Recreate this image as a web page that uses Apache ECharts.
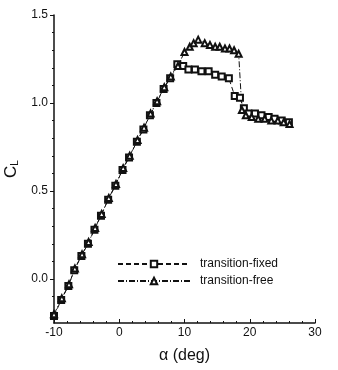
<!DOCTYPE html>
<html>
<head>
<meta charset="utf-8">
<script src="https://cdn.jsdelivr.net/npm/echarts@6/dist/echarts.min.js"></script>
<style>html,body{margin:0;padding:0;background:#fff}#c{width:338px;height:370px}</style>
</head>
<body>
<div id="c"></div>
<script>
// transition-fixed (squares, dashed)
const fixedAlpha = [-10, -8.9, -7.8, -6.9, -5.8, -4.8, -3.8, -2.8, -1.7, -0.6, 0.5, 1.5, 2.7, 3.7, 4.7, 5.7, 6.8, 7.8, 8.9, 9.8, 10.6, 11.6, 12.6, 13.7, 14.7, 15.7, 16.8, 17.7, 18.5, 19.1, 19.8, 20.8, 21.8, 22.9, 23.8, 24.9, 26.0];
const fixedCL    = [-0.21, -0.12, -0.04, 0.05, 0.13, 0.20, 0.28, 0.36, 0.45, 0.53, 0.62, 0.69, 0.78, 0.85, 0.93, 1.00, 1.08, 1.14, 1.22, 1.21, 1.19, 1.19, 1.18, 1.18, 1.16, 1.15, 1.14, 1.04, 1.03, 0.97, 0.94, 0.94, 0.93, 0.92, 0.91, 0.90, 0.89];
// transition-free (triangles, dash-dot)
const freeAlpha = [-10, -8.8, -7.7, -6.8, -5.7, -4.7, -3.7, -2.7, -1.6, -0.5, 0.6, 1.6, 2.8, 3.8, 4.8, 5.8, 6.9, 7.9, 9.0, 10.0, 10.8, 11.4, 12.1, 13.1, 13.9, 14.7, 15.4, 16.2, 16.9, 17.6, 18.3, 18.8, 19.4, 20.3, 21.3, 22.3, 23.3, 24.3, 25.2, 26.1];
const freeCL    = [-0.20, -0.11, -0.03, 0.06, 0.14, 0.21, 0.29, 0.37, 0.46, 0.54, 0.63, 0.70, 0.79, 0.86, 0.94, 1.01, 1.09, 1.15, 1.21, 1.29, 1.32, 1.34, 1.36, 1.34, 1.33, 1.32, 1.32, 1.31, 1.31, 1.30, 1.28, 0.96, 0.93, 0.92, 0.91, 0.91, 0.90, 0.90, 0.89, 0.88];
const xTicks = [-10, 0, 10, 20, 30];
const yLabelValues = [0, 0.5, 1.0, 1.5];
const yMinorValues = [-0.2,-0.1,0.1,0.2,0.3,0.4,0.6,0.7,0.8,0.9,1.1,1.2,1.3,1.4];
const seriesNames = ['transition-fixed', 'transition-free'];

const zip = (a, b) => a.map((v, i) => [v, b[i]]);
const font = 'Liberation Sans, Arial, sans-serif';
const chart = echarts.init(document.getElementById('c'), null, {renderer: 'canvas'});
chart.setOption({
  animation: false,
  backgroundColor: '#fff',
  grid: {left: 54, right: 23, top: 15, bottom: 47, containLabel: false, outerBoundsMode: 'none'},
  legend: {
    orient: 'vertical', left: 112, top: 253,
    itemWidth: 72, itemHeight: 8, itemGap: 5,
    textStyle: {fontFamily: font, fontSize: 12, color: '#111', padding: [0, 0, 0, 5]},
    data: seriesNames
  },
  xAxis: {
    type: 'value', min: -10, max: 30, interval: 10,
    name: 'α (deg)', nameLocation: 'middle', nameGap: 25,
    nameTextStyle: {fontFamily: font, fontSize: 16, color: '#111'},
    axisLine: {show: true, onZero: false, lineStyle: {color: '#111', width: 1.5}},
    axisTick: {show: true, inside: true, length: 4, lineStyle: {color: '#111'}, customValues: xTicks},
    minorTick: {show: true, splitNumber: 5, length: 2, lineStyle: {color: '#111'}},
    axisLabel: {fontFamily: font, fontSize: 12, color: '#111', margin: 4, customValues: xTicks},
    splitLine: {show: false}
  },
  yAxis: [{
    type: 'value', min: -0.25, max: 1.5,
    name: '{c|C}{l|L}', nameLocation: 'middle', nameGap: 33, nameRotate: 90,
    nameTextStyle: {
      fontFamily: font, color: '#111',
      rich: {c: {fontSize: 17, fontFamily: font, color: '#111'},
             l: {fontSize: 10, fontFamily: font, color: '#111', padding: [8, 0, 0, 0]}}
    },
    axisLine: {show: true, onZero: false, lineStyle: {color: '#111', width: 1.5}},
    axisTick: {show: true, inside: false, length: 4, lineStyle: {color: '#111'}, customValues: yLabelValues},
    axisLabel: {fontFamily: font, fontSize: 12, color: '#111', margin: 6, customValues: yLabelValues,
      formatter: v => v.toFixed(1)},
    splitLine: {show: false}
  }, {
    type: 'value', min: -0.25, max: 1.5, position: 'left',
    axisLine: {show: false, onZero: false},
    axisTick: {show: true, inside: false, length: 2, lineStyle: {color: '#111'}, customValues: yMinorValues},
    axisLabel: {show: false},
    splitLine: {show: false}
  }],
  series: [{
    name: seriesNames[0], type: 'line', data: zip(fixedAlpha, fixedCL),
    symbol: 'emptyRect', symbolSize: 6,
    lineStyle: {color: '#111', width: 1, type: [5, 3]},
    itemStyle: {color: '#111', borderWidth: 1.2}
  }, {
    name: seriesNames[1], type: 'line', data: zip(freeAlpha, freeCL),
    symbol: 'emptyTriangle', symbolSize: 6,
    lineStyle: {color: '#111', width: 1, type: [6, 2, 1, 2]},
    itemStyle: {color: '#111', borderWidth: 1.2}
  }]
});
</script>
</body>
</html>
